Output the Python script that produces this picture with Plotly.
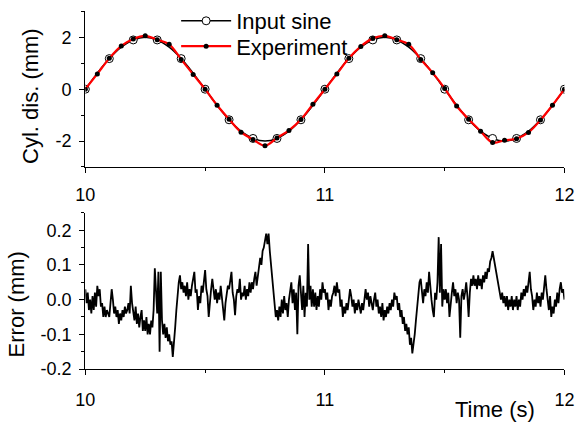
import numpy as np
import plotly.graph_objects as go

W, H = 587, 423

# ---------------- data ----------------
t_start = 10.0
# top panel: samples every 0.05 s
t_top = np.round(t_start + 0.05 * np.arange(41), 3)
input_sine = [0.00, 0.62, 1.18, 1.62, 1.90, 2.00, 1.90, 1.62, 1.18, 0.62,
              0.00, -0.62, -1.18, -1.62, -1.90, -2.00, -1.90, -1.62, -1.18, -0.62,
              0.00, 0.62, 1.18, 1.62, 1.90, 2.00, 1.90, 1.62, 1.18, 0.62,
              0.00, -0.62, -1.18, -1.62, -1.90, -2.00, -1.90, -1.62, -1.18, -0.62,
              0.00]
experiment = [0.00, 0.59, 1.19, 1.67, 1.94, 2.06, 1.91, 1.73, 1.15, 0.57,
              0.00, -0.62, -1.16, -1.66, -1.94, -2.18, -1.88, -1.59, -1.17, -0.58,
              0.00, 0.59, 1.19, 1.65, 1.96, 2.06, 1.91, 1.73, 1.15, 0.63,
              0.03, -0.65, -1.16, -1.62, -2.06, -1.97, -1.91, -1.67, -1.19, -0.62,
              0.00]

# bottom panel: error samples every 0.005 s
t_err = np.round(t_start + 0.005 * np.arange(401), 4)
error = [
    0.03, -0.01, 0.02, -0.03, 0.00, -0.04, 0.01, -0.03, 0.02, -0.02,
    0.04, 0.01, 0.03, -0.02, -0.01, -0.05, -0.02, -0.05, -0.03, -0.04,
    -0.05, -0.01, 0.03, 0.00, -0.04, -0.02, -0.05, -0.03, -0.07, -0.04,
    -0.06, -0.03, -0.05, -0.02, -0.04, -0.03, -0.01, -0.04, 0.04, -0.01,
    -0.03, -0.06, -0.02, -0.07, -0.04, -0.08, -0.05, -0.03, -0.09, -0.06,
    -0.09, -0.05, -0.10, -0.07, -0.10, -0.06, -0.08, -0.03, 0.09, 0.02,
    -0.04, 0.08, -0.15, 0.08, -0.06, -0.10, -0.07, -0.11, -0.08, -0.12,
    -0.10, -0.13, -0.12, -0.165, -0.13, -0.08, -0.03, 0.02, 0.05, 0.07,
    0.03, 0.05, 0.02, 0.04, 0.01, 0.05, 0.00, 0.03, 0.01, 0.04,
    0.06, 0.08, 0.02, 0.03, -0.03, 0.01, -0.01, 0.04, 0.02, 0.06,
    0.085, 0.03, 0.01, -0.05, 0.00, 0.03, 0.06, 0.02, 0.00, 0.03,
    -0.01, 0.02, 0.00, 0.04, 0.01, -0.02, -0.06, -0.01, 0.02, 0.04,
    0.03, 0.06, 0.08, 0.02, 0.00, -0.045, 0.01, 0.03, 0.02, 0.06,
    0.00, 0.02, 0.01, 0.04, 0.00, 0.03, 0.01, 0.05, 0.02, 0.05,
    0.03, 0.06, 0.08, 0.04, 0.07, 0.09, 0.12, 0.10, 0.14, 0.15,
    0.17, 0.19, 0.16, 0.19, 0.14, 0.10, 0.06, 0.02, -0.02, -0.05,
    -0.03, -0.06, -0.02, -0.05, 0.00, -0.04, 0.01, -0.03, -0.01, -0.05,
    0.00, 0.02, 0.05, -0.01, 0.03, -0.03, 0.02, -0.10, 0.04, 0.07,
    0.01, -0.03, 0.04, -0.05, 0.02, -0.02, 0.16, 0.00, 0.04, -0.02,
    0.03, -0.02, 0.02, -0.03, 0.01, -0.02, 0.03, 0.00, 0.05, 0.02,
    0.03, 0.00, 0.02, -0.03, 0.00, -0.02, 0.01, 0.02, 0.04, 0.01,
    0.05, 0.02, 0.03, -0.02, 0.00, -0.05, -0.02, -0.04, -0.01, -0.03,
    0.00, 0.03, 0.01, -0.02, 0.00, -0.04, -0.01, -0.03, 0.00, -0.02,
    -0.04, -0.01, -0.03, 0.00, 0.03, 0.00, 0.02, -0.02, 0.01, -0.01,
    -0.03, 0.00, 0.02, -0.02, 0.00, -0.04, -0.02, -0.05, -0.01, -0.06,
    -0.03, -0.05, -0.02, -0.04, -0.01, -0.03, 0.00, -0.02, 0.02, 0.00,
    0.01, -0.03, -0.01, -0.05, -0.03, -0.07, -0.05, -0.09, -0.07, -0.10,
    -0.08, -0.13, -0.11, -0.155, -0.13, -0.10, -0.06, -0.02, 0.02, 0.05,
    0.06, 0.01, -0.01, 0.03, 0.01, 0.05, 0.02, 0.08, 0.03, 0.00,
    -0.03, -0.05, 0.02, 0.00, 0.05, 0.18, 0.02, 0.16, -0.02, 0.03,
    0.00, 0.03, -0.01, 0.02, -0.05, 0.00, 0.02, 0.05, 0.01, 0.03,
    -0.01, 0.02, 0.00, -0.11, 0.01, 0.03, 0.00, 0.02, 0.05, 0.01,
    -0.05, 0.02, 0.06, 0.04, 0.07, 0.04, 0.06, 0.03, 0.07, 0.04,
    0.06, 0.03, 0.07, 0.05, 0.08, 0.06, 0.09, 0.08, 0.11, 0.12,
    0.14, 0.12, 0.10, 0.07, 0.05, 0.03, 0.02, 0.00, 0.02, -0.01,
    0.01, -0.02, 0.01, -0.03, 0.00, -0.02, 0.01, -0.03, 0.00, -0.02,
    0.01, -0.03, 0.00, -0.02, 0.02, 0.00, 0.03, 0.01, 0.04, 0.02,
    0.05, 0.08, 0.03, 0.01, -0.03, 0.00, -0.02, 0.02, -0.01, 0.01,
    -0.02, 0.02, 0.00, 0.04, 0.07, 0.03, 0.00, -0.03, 0.01, -0.05,
    -0.02, -0.04, 0.00, -0.02, 0.02, -0.01, 0.03, 0.05, 0.02, 0.03,
    0.00,
]

x_ticks = [10, 11, 12]
x_ticklabels = ["10", "11", "12"]
top_yticks = [-2, 0, 2]
top_yticklabels = ["-2", "0", "2"]
bot_yticks = [-0.2, -0.1, 0.0, 0.1, 0.2]
bot_yticklabels = ["-0.2", "-0.1", "0.0", "0.1", "0.2"]

# ---------------- figure ----------------
FONT = "Liberation Sans, Arial, sans-serif"
fig = go.Figure()

# input sine line
fig.add_trace(go.Scatter(x=t_top, y=input_sine, mode="lines",
                         line=dict(color="black", width=1.5, shape="spline"),
                         showlegend=False, xaxis="x", yaxis="y"))
# input sine circles every 0.1 s
fig.add_trace(go.Scatter(x=t_top[::2], y=input_sine[::2], mode="markers",
                         marker=dict(symbol="circle", size=8, color="white",
                                     line=dict(color="black", width=1)),
                         showlegend=False, xaxis="x", yaxis="y"))
# legend entry for input sine
fig.add_trace(go.Scatter(x=[None], y=[None], mode="lines+markers", name="Input sine",
                         line=dict(color="black", width=1.5),
                         marker=dict(symbol="circle", size=8, color="white",
                                     line=dict(color="black", width=1)),
                         legend="legend", xaxis="x", yaxis="y"))
# experiment
fig.add_trace(go.Scatter(x=t_top, y=experiment, mode="lines+markers", name="Experiment",
                         line=dict(color="red", width=2.2, shape="spline"),
                         marker=dict(symbol="circle", size=5, color="black"),
                         legend="legend2", xaxis="x", yaxis="y"))
# error
fig.add_trace(go.Scatter(x=t_err, y=error, mode="lines",
                         line=dict(color="black", width=1.8),
                         showlegend=False, xaxis="x2", yaxis="y2"))

x0, x1 = 78 / W, 574 / W
top_dom = [(H - 171) / H, (H - 11.7) / H]
bot_dom = [(H - 378) / H, (H - 218) / H]

axis_common = dict(showline=True, linecolor="black", linewidth=1.3,
                   ticks="outside", ticklen=5, tickwidth=1.3, tickcolor="black",
                   showgrid=False, zeroline=False,
                   tickfont=dict(family=FONT, size=18, color="black"))
minor_common = dict(ticklen=3, tickwidth=1.3, tickcolor="black", ticks="outside")

legend_common = dict(xanchor="left", yanchor="top", bgcolor="rgba(0,0,0,0)",
                     borderwidth=0, font=dict(family=FONT, size=22, color="black"),
                     itemwidth=50)

fig.update_layout(
    width=W, height=H, margin=dict(l=0, r=0, t=0, b=0),
    paper_bgcolor="white", plot_bgcolor="white",
    xaxis=dict(domain=[x0, x1], range=[10, 12], anchor="y",
               tickvals=x_ticks, ticktext=x_ticklabels, ticklabelstandoff=6,
               minor=dict(dtick=0.5, **minor_common), **axis_common),
    yaxis=dict(domain=top_dom, range=[-3, 3], anchor="x",
               tickvals=top_yticks, ticktext=top_yticklabels, ticklabelstandoff=4,
               minor=dict(dtick=1, **minor_common), **axis_common),
    xaxis2=dict(domain=[x0, x1], range=[10, 12], anchor="y2",
                tickvals=x_ticks, ticktext=x_ticklabels, ticklabelstandoff=9,
                minor=dict(dtick=0.5, **minor_common), **axis_common),
    yaxis2=dict(domain=bot_dom, range=[-0.2, 0.25], anchor="x2",
                tickvals=bot_yticks, ticktext=bot_yticklabels, ticklabelstandoff=4,
                minor=dict(dtick=0.05, **minor_common), **axis_common),
    legend=dict(x=172 / W, y=1.0, **legend_common),
    legend2=dict(x=172 / W, y=1 - 26 / H, **legend_common),
    annotations=[
        dict(text="Cyl. dis. (mm)", x=21 / W, y=1 - 98 / H, xref="paper", yref="paper",
             xanchor="center", yanchor="middle",
             textangle=-90, showarrow=False, font=dict(family=FONT, size=22, color="black")),
        dict(text="Error (mm)", x=7 / W, y=1 - 312 / H, xref="paper", yref="paper",
             xanchor="center", yanchor="middle",
             textangle=-90, showarrow=False, font=dict(family=FONT, size=22, color="black")),
        dict(text="Time (s)", x=502 / W, y=1 - 419 / H, xref="paper", yref="paper",
             xanchor="center", yanchor="middle",
             showarrow=False, font=dict(family=FONT, size=22, color="black")),
    ],
)

fig.write_html("out.html")
